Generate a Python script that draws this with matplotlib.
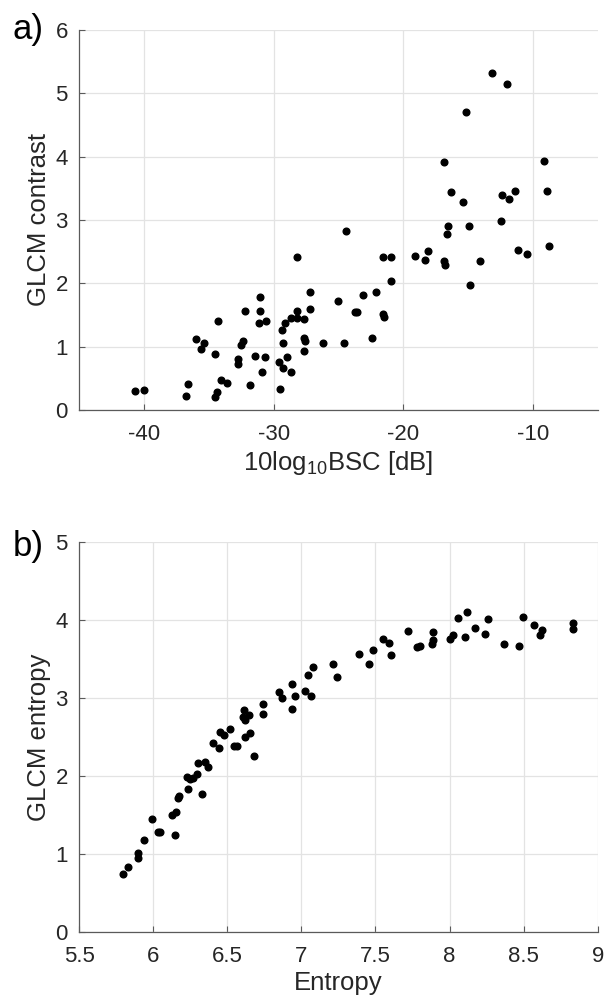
import matplotlib.pyplot as plt

# a) GLCM contrast vs backscatter coefficient
bsc_db = [-40.67, -40.0, -36.76, -36.58, -35.99, -35.33, -35.56, -34.51, -34.25, -34.54,
          -34.38, -34.02, -33.62, -32.77, -32.75, -32.54, -32.37, -32.24, -31.83, -31.45,
          -31.01, -31.01, -31.11, -30.57, -30.93, -30.68, -29.48, -29.56, -29.30, -28.97,
          -28.69, -29.30, -29.33, -29.15, -28.66, -28.20, -28.20, -27.69, -27.23, -27.18,
          -27.69, -27.56, -27.64, -28.18, -26.16, -25.01, -24.57, -24.40, -23.73, -23.55,
          -23.12, -22.45, -22.10, -21.56, -21.46, -21.53, -20.92, -20.95, -19.06, -18.29,
          -18.11, -16.86, -16.86, -16.78, -16.63, -16.55, -16.30, -15.43, -15.15, -14.92,
          -14.82, -14.10, -13.16, -12.47, -12.39, -11.85, -12.0, -11.37, -11.14, -10.47,
          -9.17, -8.94, -8.79]
glcm_contrast = [0.30, 0.31, 0.22, 0.41, 1.12, 1.06, 0.97, 0.88, 1.41, 0.21,
                 0.29, 0.47, 0.43, 0.80, 0.73, 1.02, 1.09, 1.57, 0.39, 0.85,
                 1.79, 1.56, 1.37, 1.41, 0.60, 0.83, 0.33, 0.75, 0.67, 0.83,
                 0.60, 1.05, 1.26, 1.37, 1.45, 1.57, 1.45, 1.43, 1.87, 1.59,
                 1.13, 1.09, 0.93, 2.42, 1.06, 1.72, 1.05, 2.83, 1.55, 1.55,
                 1.81, 1.13, 1.87, 1.52, 1.47, 2.41, 2.42, 2.03, 2.43, 2.37,
                 2.51, 3.91, 2.35, 2.29, 2.78, 2.91, 3.44, 3.29, 4.71, 2.91,
                 1.97, 2.35, 5.32, 2.98, 3.40, 3.33, 5.15, 3.46, 2.53, 2.46,
                 3.93, 3.46, 2.59]

# b) GLCM entropy vs entropy
entropy = [5.798, 5.832, 5.896, 5.899, 5.937, 5.995, 6.034, 6.049, 6.146, 6.130,
           6.157, 6.166, 6.173, 6.233, 6.229, 6.247, 6.267, 6.297, 6.330, 6.305,
           6.350, 6.368, 6.404, 6.445, 6.449, 6.476, 6.521, 6.546, 6.568, 6.615,
           6.606, 6.622, 6.647, 6.620, 6.651, 6.683, 6.743, 6.743, 6.849, 6.871,
           6.934, 6.934, 6.954, 7.022, 7.062, 7.044, 7.076, 7.213, 7.240, 7.390,
           7.456, 7.480, 7.552, 7.590, 7.604, 7.722, 7.783, 7.801, 7.880, 7.891,
           7.887, 8.003, 8.022, 8.057, 8.120, 8.107, 8.172, 8.242, 8.258, 8.367,
           8.470, 8.493, 8.569, 8.610, 8.623, 8.830, 8.830]
glcm_entropy = [0.75, 0.84, 0.95, 1.02, 1.18, 1.45, 1.29, 1.28, 1.24, 1.50,
                1.54, 1.72, 1.75, 1.83, 1.99, 1.96, 1.98, 2.02, 1.77, 2.17,
                2.18, 2.11, 2.42, 2.36, 2.56, 2.53, 2.60, 2.39, 2.39, 2.85,
                2.76, 2.72, 2.78, 2.50, 2.55, 2.26, 2.92, 2.80, 3.08, 3.00,
                3.18, 2.86, 3.03, 3.09, 3.03, 3.30, 3.40, 3.44, 3.27, 3.56,
                3.44, 3.61, 3.76, 3.70, 3.55, 3.86, 3.65, 3.66, 3.69, 3.74,
                3.84, 3.75, 3.80, 4.02, 4.10, 3.78, 3.90, 3.82, 4.01, 3.69,
                3.67, 4.03, 3.93, 3.81, 3.87, 3.96, 3.88]

plt.rcParams['font.family'] = ['Liberation Sans', 'DejaVu Sans']
plt.rcParams['axes.unicode_minus'] = False
plt.rcParams['mathtext.fontset'] = 'custom'
plt.rcParams['mathtext.rm'] = 'Liberation Sans'
textColor = '#262626'
tickSize = 16
labelSize = 18.5


def styleAxes(ax):
    for side in ['top', 'right']:
        ax.spines[side].set_visible(False)
    for side in ['left', 'bottom']:
        ax.spines[side].set_color('#5a5a5a')
        ax.spines[side].set_linewidth(0.9)
    ax.tick_params(direction='in', length=4, width=0.8, color='#5a5a5a',
                   labelsize=tickSize, labelcolor=textColor)
    ax.tick_params(axis='x', pad=10)
    ax.tick_params(axis='y', pad=8)
    ax.grid(True, color='#e3e3e3', linewidth=0.9)
    ax.set_axisbelow(True)


figure = plt.figure(figsize=(6.14, 10.08), dpi=100)

ax1 = figure.add_axes([0.1287, 0.5933, 0.845, 0.377])
ax1.plot(bsc_db, glcm_contrast, 'o', color='black', markersize=4.8, clip_on=False)
ax1.set_xlim(-45, -5)
ax1.set_ylim(0, 6)
ax1.set_xticks([-40, -30, -20, -10])
ax1.set_yticks(range(0, 7))
styleAxes(ax1)
ax1.set_xlabel(r'10log$_{\mathregular{10}}$BSC [dB]', fontsize=labelSize, color=textColor, labelpad=3)
ax1.set_ylabel('GLCM contrast', fontsize=labelSize, color=textColor, labelpad=3)
figure.text(0.021, 0.987, 'a)', fontsize=25, color='black', va='top')

ax2 = figure.add_axes([0.1287, 0.0751, 0.845, 0.3875])
ax2.plot(entropy, glcm_entropy, 'o', color='black', markersize=4.8, clip_on=False)
ax2.set_xlim(5.5, 9)
ax2.set_ylim(0, 5)
ax2.set_xticks([5.5, 6, 6.5, 7, 7.5, 8, 8.5, 9])
ax2.set_xticklabels(['5.5', '6', '6.5', '7', '7.5', '8', '8.5', '9'])
ax2.set_yticks(range(0, 6))
styleAxes(ax2)
ax2.set_xlabel('Entropy', fontsize=labelSize, color=textColor, labelpad=3)
ax2.set_ylabel('GLCM entropy', fontsize=labelSize, color=textColor, labelpad=3)
figure.text(0.021, 0.474, 'b)', fontsize=25, color='black', va='top')

figure.savefig('out.png', dpi=100)
